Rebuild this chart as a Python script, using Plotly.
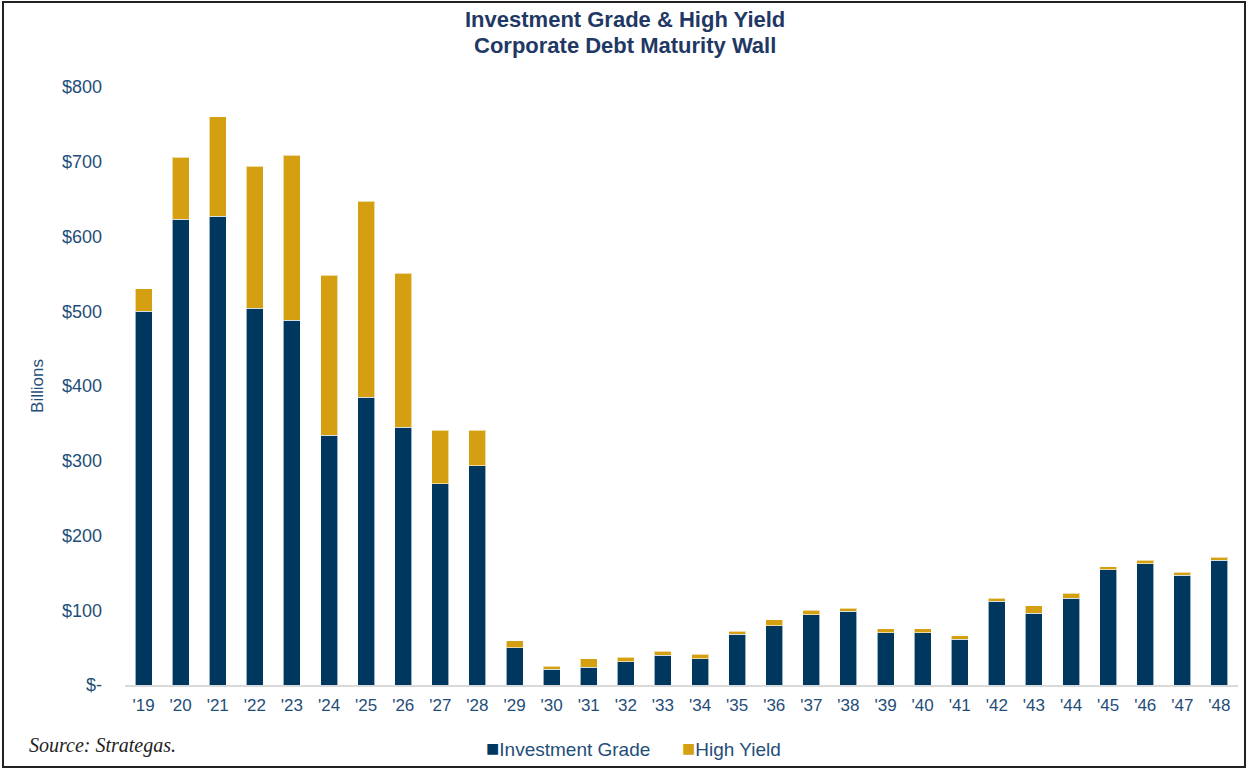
import plotly.graph_objects as go

years = ["'19", "'20", "'21", "'22", "'23", "'24", "'25", "'26", "'27", "'28",
         "'29", "'30", "'31", "'32", "'33", "'34", "'35", "'36", "'37", "'38",
         "'39", "'40", "'41", "'42", "'43", "'44", "'45", "'46", "'47", "'48"]
investment_grade = [500, 623, 627, 504, 488, 334, 385, 345, 269, 293,
                    50, 21, 24, 31, 40, 35, 68, 79, 94, 99,
                    70, 70, 61, 112, 96, 116, 154, 162, 147, 167]
total = [530, 706, 760, 694, 709, 548, 647, 551, 341, 341,
         59, 25, 35, 37, 45, 41, 72, 87, 100, 103,
         75, 75, 66, 116, 106, 123, 158, 167, 151, 171]
high_yield = [t - i for t, i in zip(total, investment_grade)]

y_ticks = [0, 100, 200, 300, 400, 500, 600, 700, 800]
y_tick_labels = ["$-", "$100", "$200", "$300", "$400", "$500", "$600", "$700", "$800"]

IG_COLOR = "#00375F"
HY_COLOR = "#D4A012"
TEXT_COLOR = "#1F4E79"
TITLE_COLOR = "#1F3864"
SANS = "Liberation Sans, Arial, sans-serif"

# plot area geometry (pixels) used to map paper coordinates
L, R, T, B = 125, 12, 87, 85
PW, PH = 1250 - L - R, 770 - T - B


def px(x):
    return (x - L) / PW


def py(y):
    return (770 - B - y) / PH


fig = go.Figure()
fig.add_trace(go.Bar(x=years, y=investment_grade, name="Investment Grade",
                     marker=dict(color=IG_COLOR, line=dict(color="rgba(255,255,255,0.6)", width=1))))
fig.add_trace(go.Bar(x=years, y=high_yield, name="High Yield",
                     marker=dict(color=HY_COLOR, line=dict(color="rgba(255,255,255,0.6)", width=1))))

legend_text = (f"<span style='color:{IG_COLOR};font-size:22px'>■</span>Investment Grade"
               f"      <span style='color:{HY_COLOR};font-size:22px'>■</span>High Yield")

fig.update_layout(
    width=1250, height=770,
    barmode="stack", bargap=0.54,
    paper_bgcolor="white", plot_bgcolor="white",
    margin=dict(l=L, r=R, t=T, b=B, autoexpand=False),
    showlegend=False,
    xaxis=dict(type="category", range=[-0.5, 29.5], showgrid=False,
               showline=True, linecolor="#D9D9D9", linewidth=2,
               ticks="", ticklabelstandoff=4,
               tickfont=dict(family=SANS, size=17, color=TEXT_COLOR)),
    yaxis=dict(range=[0, 800], tickvals=y_ticks, ticktext=y_tick_labels,
               showgrid=False, zeroline=False, showline=False, ticks="",
               ticklabelstandoff=22,
               tickfont=dict(family=SANS, size=18, color=TEXT_COLOR),
               title=dict(text="Billions", standoff=14,
                          font=dict(family=SANS, size=17, color=TEXT_COLOR))),
    shapes=[dict(type="rect", xref="paper", yref="paper",
                 x0=px(3), x1=px(1245), y0=py(767), y1=py(2),
                 line=dict(color="#222222", width=2), fillcolor="rgba(0,0,0,0)")],
    annotations=[
        dict(text="<b>Investment Grade & High Yield</b>", xref="paper", yref="paper",
             x=px(625), y=py(20), xanchor="center", yanchor="middle", showarrow=False,
             font=dict(family=SANS, size=22, color=TITLE_COLOR)),
        dict(text="<b>Corporate Debt Maturity Wall</b>", xref="paper", yref="paper",
             x=px(625), y=py(46), xanchor="center", yanchor="middle", showarrow=False,
             font=dict(family=SANS, size=22, color=TITLE_COLOR)),
        dict(text="<i>Source: Strategas.</i>", xref="paper", yref="paper",
             x=px(27), y=py(745), xanchor="left", yanchor="middle", showarrow=False,
             font=dict(family="Liberation Serif, Times New Roman, serif", size=20, color="#222222")),
        dict(text=legend_text, xref="paper", yref="paper",
             x=px(633), y=py(748), xanchor="center", yanchor="middle", showarrow=False,
             font=dict(family=SANS, size=19, color=TEXT_COLOR)),
    ],
)

fig.write_html("out.html")
